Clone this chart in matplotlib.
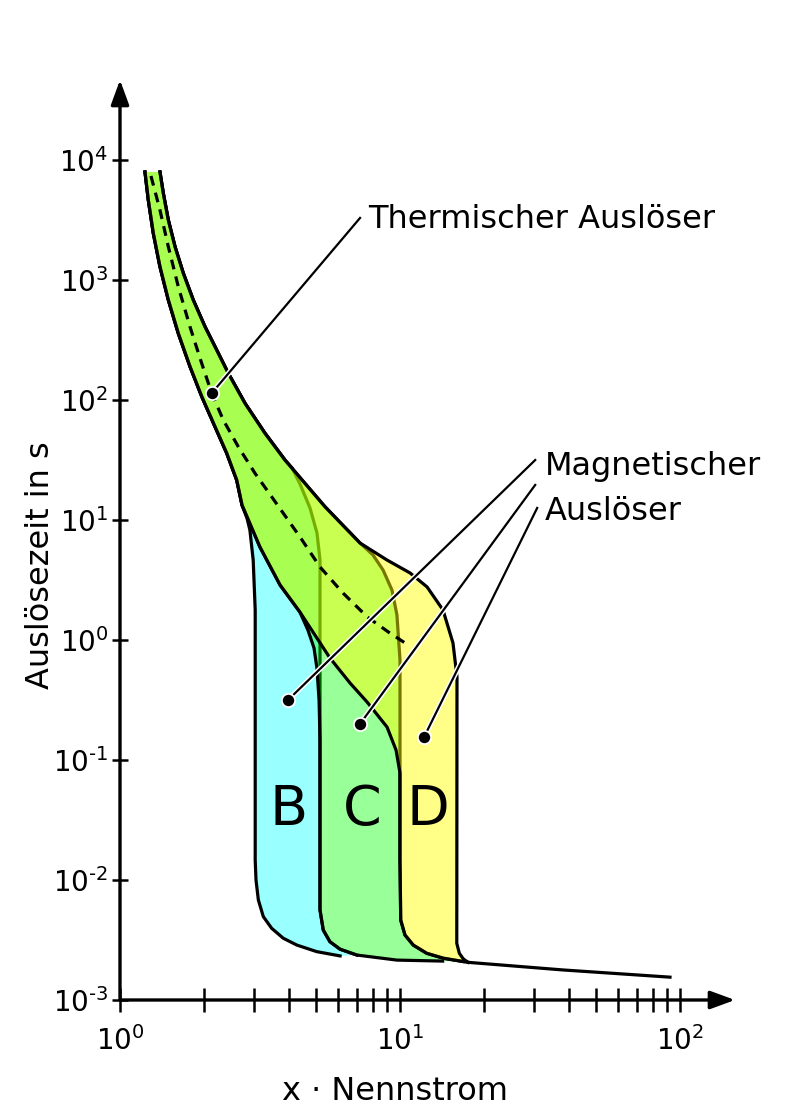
import numpy as np
import matplotlib
matplotlib.use("Agg")
import matplotlib.pyplot as plt
import matplotlib.patheffects as pe
from matplotlib.ticker import NullFormatter, NullLocator

# thermal band: upper and lower bound (x = multiple of rated current, t in s)
therm_hi_x = [1.389, 1.428, 1.488, 1.572, 1.683, 1.827, 2.012, 2.215, 2.437, 2.796, 3.296,
              3.884, 4.578, 5.397, 7.197, 8.986, 10.86]
therm_hi_y = [7950, 5280, 3160, 1900, 1140, 681, 408, 261, 167, 93.9, 52.8,
              31.6, 20.2, 12.9, 6.43, 4.64, 3.62]
therm_lo_x = [1.228, 1.262, 1.315, 1.389, 1.488, 1.615, 1.778, 1.958, 2.184, 2.405, 2.611,
              2.728, 3.16, 3.73, 4.39, 5.62, 6.63, 7.63, 8.99, 9.68, 10.0]
therm_lo_y = [7950, 4640, 2450, 1290, 681, 359, 190, 107, 59.9, 36.0, 21.5,
              13.3, 5.96, 2.87, 1.71, 0.708, 0.438, 0.304, 0.188, 0.121, 0.0779]
# mean thermal curve (dashed)
therm_mid_x = [1.29, 1.389, 1.488, 1.615, 1.778, 1.958, 2.126, 2.338, 2.645, 3.035, 3.482,
               4.394, 5.18, 6.26, 7.63, 9.21, 10.7]
therm_mid_y = [7360, 3830, 1895, 880, 408, 202, 114, 68.1, 40.8, 24.5, 15.6,
               7.22, 4.06, 2.46, 1.56, 1.14, 0.908]

# magnetic trip branches
b_lo_x = [2.84, 2.91, 2.99, 3.04, 3.04, 3.06, 3.12, 3.25, 3.48, 3.83, 4.28, 5.04, 6.11]
b_lo_y = [10.4, 8.25, 4.64, 1.78, 0.0147, 0.0100, 0.00681, 0.00495, 0.00396, 0.00327,
          0.00287, 0.00253, 0.00233]
b_hi_x = [4.117, 4.394, 4.77, 5.052, 5.18, 5.18, 5.32, 5.62, 6.11, 7.01]
b_hi_y = [27.1, 19.95, 12.6, 7.80, 4.64, 0.00562, 0.00383, 0.00306, 0.00265, 0.00237]
c_lo_x = [4.69, 4.93, 5.05, 5.14, 5.18]
c_lo_y = [1.21, 0.858, 0.584, 0.316, 0.147]
c_hi_x = [8.01, 8.70, 9.36, 9.75, 10.0]
c_hi_y = [5.11, 3.83, 2.61, 1.62, 0.681]
m10_x = [10.0, 10.06, 10.42, 11.15, 12.46, 14.28, 16.83]
m10_y = [0.0147, 0.00464, 0.00348, 0.00287, 0.00245, 0.00223, 0.00209]
d_hi_x = [12.49, 14.24, 15.46, 15.98, 15.95, 16.29, 16.83, 17.5]
d_hi_y = [2.77, 1.78, 0.944, 0.492, 0.00297, 0.00245, 0.0022, 0.00206]
floor_x = [9.75, 14.2, 17.5, 38.2, 92.1]
floor_y = [0.00215, 0.00211, 0.00206, 0.00178, 0.00155]

zones = ['B', 'C', 'D']
zone_x = [4.01, 7.31, 12.6]

therm_dot = (2.126, 114)
therm_end = (7.20, 3290)
mag_dot_x = [3.98, 7.20, 12.2]
mag_dot_y = [0.316, 0.200, 0.156]
mag_end_x = [30.4, 30.4, 30.9]
mag_end_y = [31.6, 19.6, 12.6]

x_major = [1, 10, 100]
x_minor = [2, 3, 4, 5, 6, 7, 8, 9, 20, 30, 40, 50, 60, 70, 80, 90]
y_major = [1e-3, 1e-2, 1e-1, 1e0, 1e1, 1e2, 1e3, 1e4]


def cat(*parts):
    xs = np.concatenate([np.asarray(p[0], float) for p in parts])
    ys = np.concatenate([np.asarray(p[1], float) for p in parts])
    return xs, ys


U = (np.array(therm_hi_x), np.array(therm_hi_y))
L = (np.array(therm_lo_x), np.array(therm_lo_y))
F = (np.array(floor_x), np.array(floor_y))


def sl(c, a, b=None):
    return c[0][a:b], c[1][a:b]


b_min = cat(sl(L, 0, 12), (b_lo_x, b_lo_y))
b_max = cat(sl(U, 0, 12), (b_hi_x, b_hi_y))
c_min = cat(sl(L, 0, 15), (c_lo_x, c_lo_y), (b_hi_x[5:], b_hi_y[5:]), sl(F, 0, 2))
c_max = cat(sl(U, 0, 15), (c_hi_x, c_hi_y), (m10_x, m10_y))
d_min = cat(L, (m10_x, m10_y), sl(F, 2, 3))
d_max = cat(U, (d_hi_x, d_hi_y))

fig = plt.figure(figsize=(8, 11.2), dpi=100)
ax = fig.add_axes([120 / 800, 120 / 1120, 615 / 800, 920 / 1120])
ax.set_xscale('log')
ax.set_yscale('log')
ax.set_xlim(1, 10 ** (615 / 280))
ax.set_ylim(1e-3, 10 ** (4 + 80 / 120))

regions = [(b_min, b_max, (0, 1, 1, 0.4)),
           (c_min, c_max, (0, 1, 0, 0.4)),
           (d_min, d_max, (1, 1, 0, 0.47))]
z = 1
for lo, hi, col in regions:
    px = np.concatenate([hi[0], lo[0][::-1]])
    py = np.concatenate([hi[1], lo[1][::-1]])
    ax.fill(px, py, color=col, lw=0, zorder=z)
    ax.plot(lo[0], lo[1], color='black', lw=2.3, zorder=z + 0.1, solid_joinstyle='round')
    ax.plot(hi[0], hi[1], color='black', lw=2.3, zorder=z + 0.1, solid_joinstyle='round')
    z += 0.2
ax.plot(floor_x[2:], floor_y[2:], color='black', lw=2.3, zorder=z)

ax.plot(therm_mid_x, therm_mid_y, color='black', lw=2.3, dashes=(3.1, 2.3), zorder=2)

halo = [pe.Stroke(linewidth=3.8, foreground='white'), pe.Normal()]
ax.plot([therm_dot[0], therm_end[0]], [therm_dot[1], therm_end[1]], color='black',
        lw=1.6, path_effects=halo, zorder=5)
ax.plot(*therm_dot, 'o', ms=9.5, mfc='black', mec='white', mew=1.3, zorder=6)
for x0, y0, x1, y1 in zip(mag_dot_x, mag_dot_y, mag_end_x, mag_end_y):
    ax.plot([x0, x1], [y0, y1], color='black', lw=1.6, path_effects=halo, zorder=5)
    ax.plot(x0, y0, 'o', ms=9.5, mfc='black', mec='white', mew=1.3, zorder=6)

ax.text(7.69, 2712, 'Thermischer Auslöser', fontsize=23, ha='left', va='baseline')
ax.text(33.0, 23.7, 'Magnetischer', fontsize=23, ha='left', va='baseline')
ax.text(33.0, 10.0, 'Auslöser', fontsize=23, ha='left', va='baseline')
for name, x in zip(zones, zone_x):
    ax.text(x, 0.0287, name, fontsize=40, ha='center', va='baseline', zorder=4)

# axes with arrows
for s in ax.spines.values():
    s.set_visible(False)
arrow = dict(arrowstyle='-|>,head_length=15,head_width=5.5', mutation_scale=1,
             lw=2.4, color='black', shrinkA=0, shrinkB=0)
ax.annotate('', xy=(1, 0), xytext=(0, 0), xycoords='axes fraction',
            textcoords='axes fraction', arrowprops=arrow, annotation_clip=False)
ax.annotate('', xy=(0, 1), xytext=(0, 0), xycoords='axes fraction',
            textcoords='axes fraction', arrowprops=arrow, annotation_clip=False)


def exp_label(v):
    e = int(round(np.log10(v)))
    return r'$10^{\text{%d}}$' % e


ax.set_xticks(x_major)
ax.set_xticklabels([exp_label(v) for v in x_major])
ax.set_xticks(x_minor, minor=True)
ax.xaxis.set_minor_formatter(NullFormatter())
ax.tick_params(axis='x', which='both', direction='inout', length=17, width=1.8,
               pad=10, labelsize=20)
ax.set_yticks(y_major)
ax.set_yticklabels([exp_label(v) for v in y_major])
ax.yaxis.set_minor_locator(NullLocator())
ax.tick_params(axis='y', which='major', direction='inout', length=11, width=1.8,
               pad=3, labelsize=20)

fig.text(49 / 800, 1 - 565 / 1120, 'Auslösezeit in s', fontsize=23, rotation=90,
         rotation_mode='anchor', ha='center', va='baseline')
fig.text(395 / 800, 20 / 1120, 'x · Nennstrom', fontsize=23, ha='center', va='baseline')

fig.savefig('out.png', dpi=100)
